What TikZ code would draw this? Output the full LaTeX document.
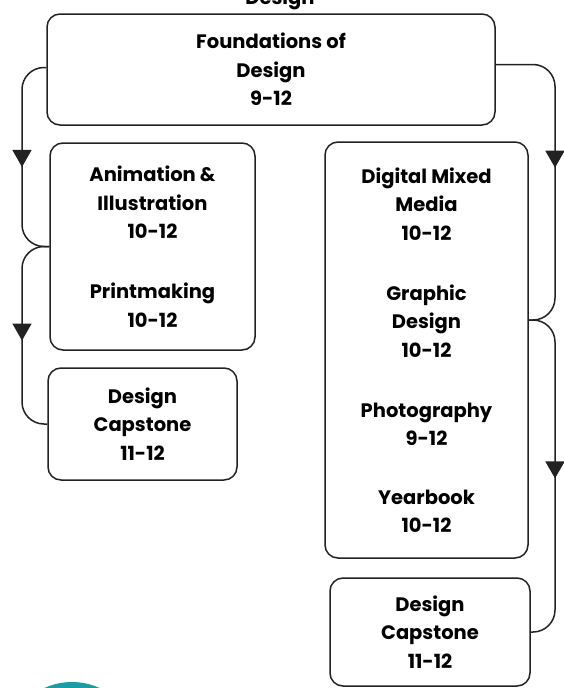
\documentclass[tikz,border=0pt]{standalone}
\usepackage{fontspec}
\setmainfont{Poppins}
\usetikzlibrary{arrows.meta,decorations.markings}
\definecolor{inkgray}{HTML}{222222}
\definecolor{tealdot}{HTML}{1E9AA5}

\begin{document}
\begin{tikzpicture}[x=1pt,y=-1pt,
    course/.style={draw=inkgray, line width=1.5pt, rounded corners=13pt, align=center,
      inner sep=0pt, font=\bfseries\fontsize{19.5}{28.5}\selectfont},
    link/.style={draw=inkgray, line width=1.5pt, rounded corners=22pt},
    midtip/.style={postaction={decorate}, decoration={markings,
      mark=at position #1 with {\arrow{Triangle[width=19pt,length=17pt]}}}}]
    \useasboundingbox (0,0) rectangle (564,688);
    \fill[tealdot] (72,748) circle (66);
    \node[anchor=base, font=\bfseries\fontsize{19.5}{28.5}\selectfont] (title) at (280,5) {Design};

    \node[course, minimum width=448pt, minimum height=111pt] (found) at (271,69.5)
        {Foundations of\\Design\\9-12};
    \node[course, minimum width=205pt, minimum height=207pt] (anim) at (152.5,246.5)
        {Animation \&\\Illustration\\10-12\\[31.5pt]Printmaking\\10-12};
    \node[course, minimum width=189pt, minimum height=112pt] (capL) at (142.5,424)
        {Design\\Capstone\\11-12};
    \node[course, minimum width=203pt, minimum height=416pt] (dig) at (426.5,350)
        {Digital Mixed\\Media\\10-12\\[31.5pt]Graphic\\Design\\10-12\\[31.5pt]Photography\\9-12\\[30pt]Yearbook\\10-12};
    \node[course, minimum width=200pt, minimum height=108pt] (capR) at (430,632)
        {Design\\Capstone\\11-12};

    \coordinate (lrail) at (22,0);
    \coordinate (rrail) at (555,0);
    \coordinate (djoin) at ([yshift=30pt]dig.east);

    \draw[link, midtip=0.54] ([yshift=2pt]found.west) -| (lrail |- anim.west) -- (anim.west);
    \draw[link, midtip=0.53] (anim.west) -| (lrail |- capL.west) -- (capL.west);
    \draw[link, midtip=0.475] ([yshift=5pt]found.east) -| (rrail |- djoin) -- (djoin);
    \draw[link, midtip=0.51] (djoin) -| (rrail |- capR.east) -- (capR.east);
\end{tikzpicture}
\end{document}
